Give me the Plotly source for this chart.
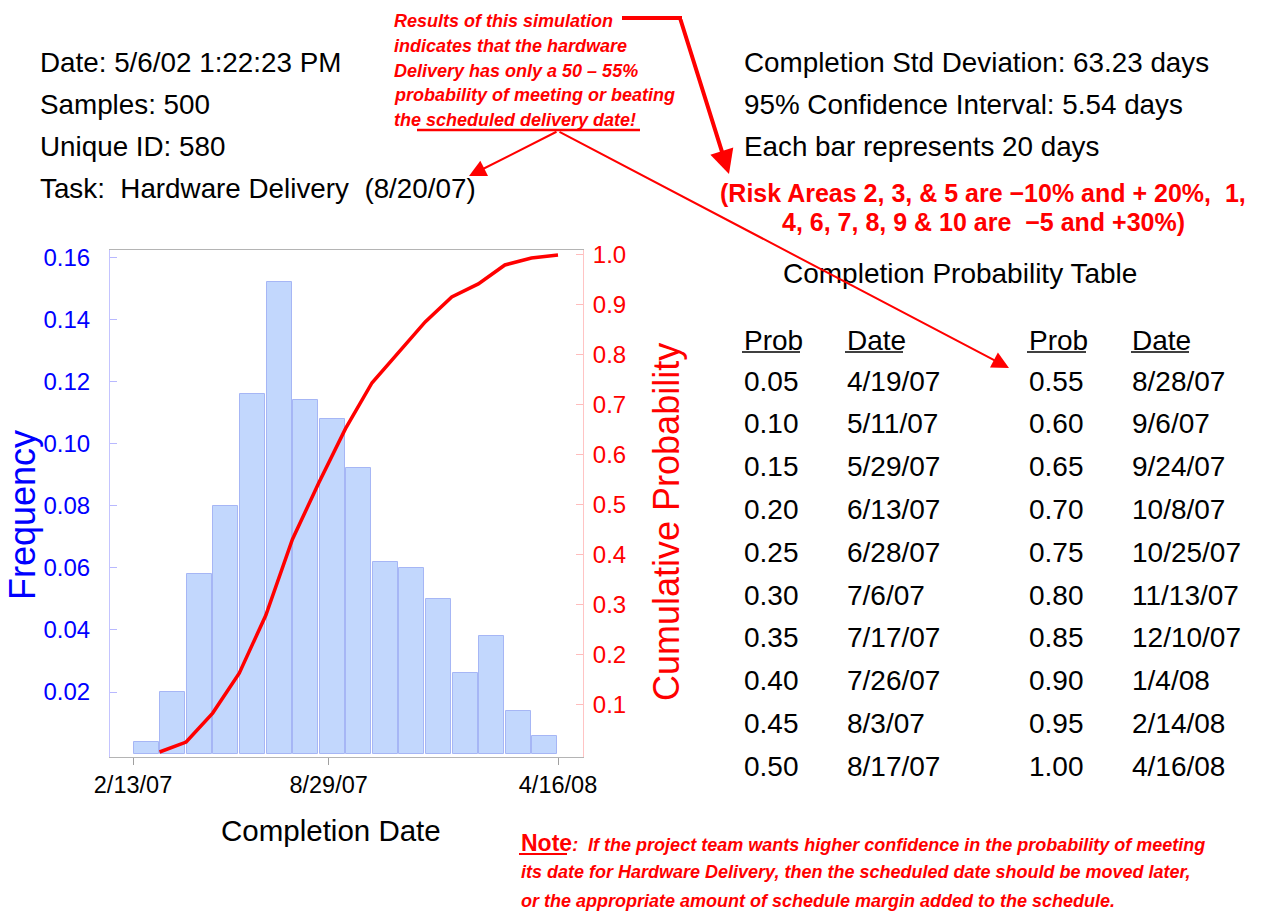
import plotly.graph_objects as go
import pandas as pd
import numpy as np

# ---------------- data ----------------
bin_start = "2007-02-13"
bin_end = "2008-04-16"
frequency = [0.004, 0.020, 0.058, 0.080, 0.116, 0.152, 0.114, 0.108,
             0.092, 0.062, 0.060, 0.050, 0.026, 0.038, 0.014, 0.006]
x_tick_dates = ["2007-02-13", "2007-08-29", "2008-04-16"]
x_tick_labels = ["2/13/07", "8/29/07", "4/16/08"]
freq_ticks = [0.02, 0.04, 0.06, 0.08, 0.10, 0.12, 0.14, 0.16]
cum_ticks = [0.1, 0.2, 0.3, 0.4, 0.5, 0.6, 0.7, 0.8, 0.9, 1.0]

info_left = ["Date: 5/6/02 1:22:23 PM", "Samples: 500", "Unique ID: 580",
             "Task:  Hardware Delivery  (8/20/07)"]
info_right = ["Completion Std Deviation: 63.23 days",
              "95% Confidence Interval: 5.54 days",
              "Each bar represents 20 days"]
risk_lines = ["(Risk Areas 2, 3, & 5 are \u221210% and + 20%,  1,",
              "4, 6, 7, 8, 9 & 10 are  \u22125 and +30%)"]
callout_lines = ["Results of this simulation",
                 "indicates that the hardware",
                 "Delivery has only a 50 \u2013 55%",
                 "probability of meeting or beating",
                 "the scheduled delivery date!"]
note_lines = ["If the project team wants higher confidence in the probability of meeting",
              "its date for Hardware Delivery, then the scheduled date should be moved later,",
              "or the appropriate amount of schedule margin added to the schedule."]
table_title = "Completion Probability Table"
table_headers = ["Prob", "Date", "Prob", "Date"]
probs_left = ["0.05", "0.10", "0.15", "0.20", "0.25", "0.30", "0.35", "0.40", "0.45", "0.50"]
dates_left = ["4/19/07", "5/11/07", "5/29/07", "6/13/07", "6/28/07", "7/6/07",
              "7/17/07", "7/26/07", "8/3/07", "8/17/07"]
probs_right = ["0.55", "0.60", "0.65", "0.70", "0.75", "0.80", "0.85", "0.90", "0.95", "1.00"]
dates_right = ["8/28/07", "9/6/07", "9/24/07", "10/8/07", "10/25/07", "11/13/07",
               "12/10/07", "1/4/08", "2/14/08", "4/16/08"]

# ---------------- derived ----------------
start = pd.Timestamp(bin_start)
end = pd.Timestamp(bin_end)
n = len(frequency)
bw = (end - start) / n
centers = [start + bw * (i + 0.5) for i in range(n)]
right_edges = [start + bw * (i + 1) for i in range(n)]
cumulative = np.cumsum(frequency)

FONT = "Liberation Sans, Arial, sans-serif"
W, H = 1262, 912
L, R, T, B = 110, 583, 250, 757


def px(x):
    return (x - L) / (R - L)


def py(y):
    return (B - y) / (B - T)


fig = go.Figure()
fig.add_trace(go.Bar(
    x=centers, y=frequency, width=bw.total_seconds() * 1000 * 0.94,
    marker=dict(color="#c2d7fd", line=dict(color="#a6b6f5", width=1)),
    yaxis="y", showlegend=False, hoverinfo="skip"))
fig.add_trace(go.Scatter(
    x=right_edges, y=cumulative, mode="lines",
    line=dict(color="#ff0000", width=3.5),
    yaxis="y2", showlegend=False, hoverinfo="skip"))

days_per_px = (end - start).days / (558 - 133)
x_range = [start - pd.Timedelta(days=(133 - L) * days_per_px),
           end + pd.Timedelta(days=(R - 558) * days_per_px)]

fig.update_layout(
    width=W, height=H,
    margin=dict(l=L, r=W - R, t=T, b=H - B, autoexpand=False),
    paper_bgcolor="white", plot_bgcolor="white",
    font=dict(family=FONT, color="black"),
    bargap=0,
    xaxis=dict(type="date", range=x_range, tickvals=x_tick_dates, ticktext=x_tick_labels,
               ticks="outside", ticklen=7, tickcolor="#a0a0a0", showline=True,
               linecolor="#b4b4b4", linewidth=1, mirror=True, showgrid=False, zeroline=False,
               tickfont=dict(size=23.5, color="black", family=FONT), ticklabelstandoff=0),
    yaxis=dict(range=[-0.0009, 0.1623], tickvals=freq_ticks, tickformat=".2f",
               ticks="inside", ticklen=7, tickcolor="#b8b8ff", showline=True,
               linecolor="#c4c4ff", linewidth=1, showgrid=False, zeroline=False,
               tickfont=dict(size=24, color="#0000ff", family=FONT), ticklabelstandoff=14),
    yaxis2=dict(range=[-0.006, 1.010], tickvals=cum_ticks, tickformat=".1f",
                overlaying="y", side="right", ticks="inside", ticklen=7,
                tickcolor="#ffbcbc", showline=True, linecolor="#ffc4c4", linewidth=1,
                showgrid=False, zeroline=False,
                tickfont=dict(size=24, color="#ff0000", family=FONT), ticklabelstandoff=4),
)

ann = []


def text(x, y, s, size, color="black", xanchor="left", angle=0, bold=False, italic=False):
    if italic:
        s = "<i>" + s + "</i>"
    if bold:
        s = "<b>" + s + "</b>"
    ann.append(dict(x=px(x), y=py(y), xref="paper", yref="paper", text=s,
                    showarrow=False, xanchor=xanchor, yanchor="middle", textangle=angle,
                    font=dict(size=size, color=color, family=FONT)))


# axis titles
text(331, 830, "Completion Date", 29.5, xanchor="center")
text(22, 515, "Frequency", 36, color="#0000ff", xanchor="center", angle=-90)
text(666, 522, "Cumulative Probability", 36, color="#ff0000", xanchor="center", angle=-90)

# info blocks
for i, s in enumerate(info_left):
    text(38, 62 + i * 42.3, s, 27.8)
for i, s in enumerate(info_right):
    text(742, 62 + i * 42.3, s, 27.8)
for i, s in enumerate(risk_lines):
    text(983, 193 + i * 29, s, 25, color="#ff0000", xanchor="center", bold=True)
for i, s in enumerate(callout_lines):
    text(392, 21 + i * 24.75, s, 18, color="#ff0000", bold=True, italic=True)

# table
text(960, 273, table_title, 28, xanchor="center")
col_x = [742, 845, 1027, 1130]
for cx, h in zip(col_x, table_headers):
    text(cx, 340, h, 28)
for i in range(len(probs_left)):
    yy = 381 + i * 42.8
    text(col_x[0], yy, probs_left[i], 28)
    text(col_x[1], yy, dates_left[i], 28)
    text(col_x[2], yy, probs_right[i], 28)
    text(col_x[3], yy, dates_right[i], 28)

# note
ann.append(dict(x=px(519), y=py(843), xref="paper", yref="paper", showarrow=False,
                xanchor="left", yanchor="middle",
                text="<b><span style='font-size:23px'>Note</span><i>:  " + note_lines[0] + "</i></b>",
                font=dict(size=18, color="#ff0000", family=FONT)))
for i, s in enumerate(note_lines[1:]):
    text(519, 872 + i * 29, s, 18, color="#ff0000", bold=True, italic=True)


# arrows
def arrow(tip, tail, width, size):
    ann.append(dict(x=px(tip[0]), y=py(tip[1]), xref="paper", yref="paper", text="",
                    showarrow=True, arrowhead=2, arrowsize=size, arrowwidth=width,
                    arrowcolor="#ff0000", ax=tail[0] - tip[0], ay=tail[1] - tip[1],
                    axref="pixel", ayref="pixel"))


arrow((729, 174), (680, 18), 4, 1.2)
arrow((469, 176), (558, 131), 2, 1.7)
arrow((1009, 368), (558, 131), 2, 1.7)

fig.update_layout(annotations=ann)

shapes = []


def hline(x0, x1, y, width, color):
    shapes.append(dict(type="line", xref="paper", yref="paper", x0=px(x0), x1=px(x1),
                       y0=py(y), y1=py(y), line=dict(color=color, width=width)))


hline(622, 682, 18, 4, "#ff0000")
hline(417, 640, 130, 2.5, "#ff0000")
hline(519, 567, 854, 2, "#ff0000")
for x0, x1 in [(742, 800), (845, 903), (1027, 1086), (1131, 1189)]:
    hline(x0, x1, 352, 1.5, "black")
fig.update_layout(shapes=shapes)

fig.write_html("out.html", config={"displayModeBar": False},
               post_script="document.body.style.margin='0px';document.body.style.overflow='hidden';")
